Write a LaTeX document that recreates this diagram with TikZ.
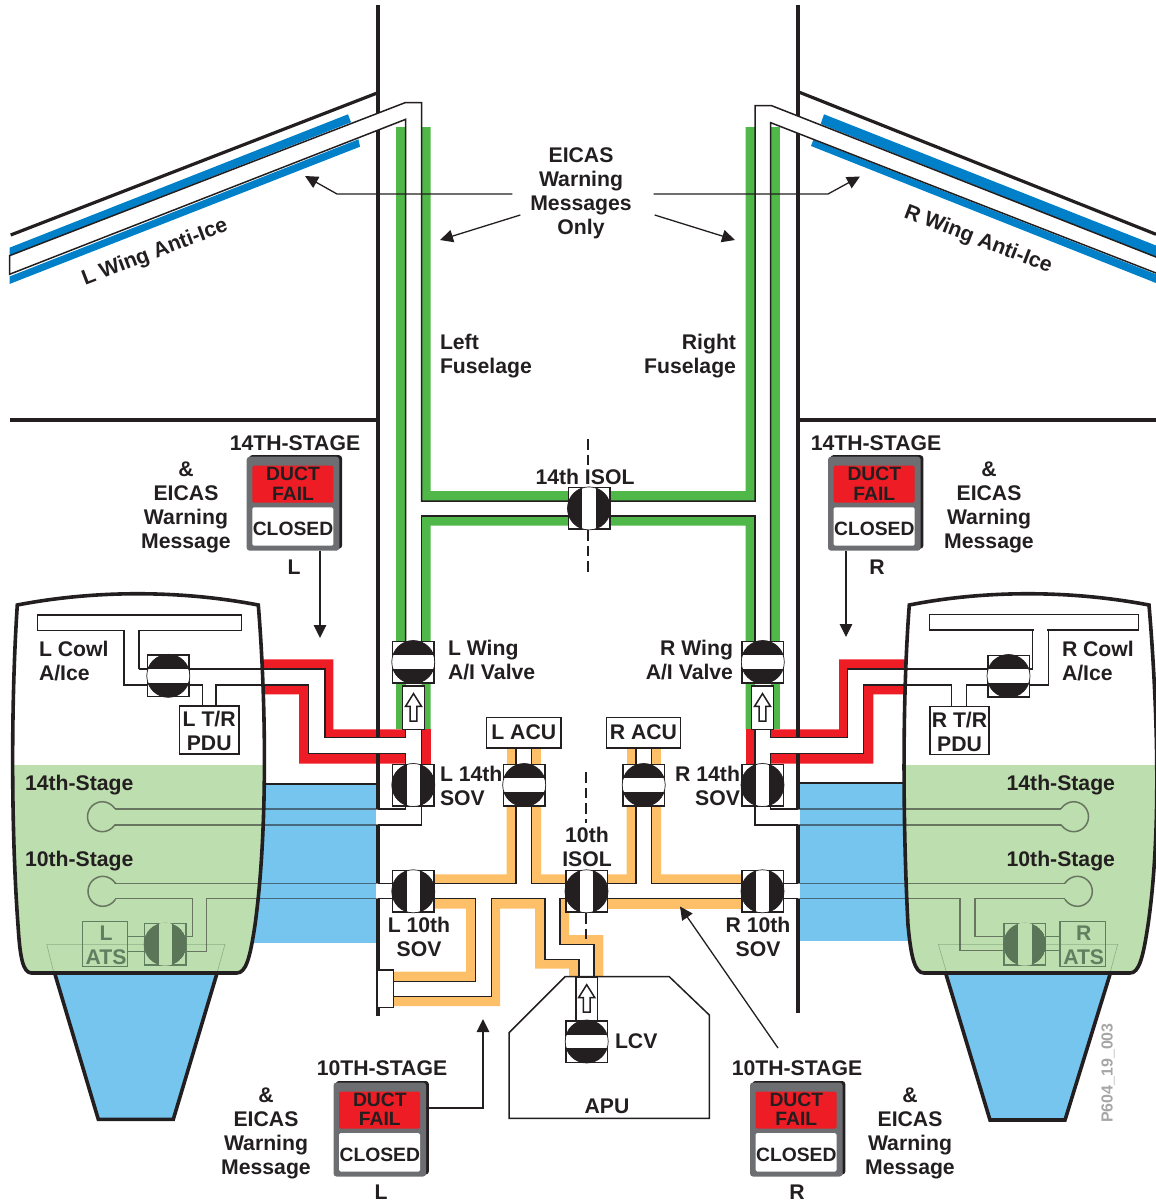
\documentclass[tikz,border=0pt]{standalone}
\usepackage{fontspec}
\setmainfont{Liberation Sans}
\usetikzlibrary{arrows.meta}
\definecolor{ink}{HTML}{231F20}
\definecolor{ductgreen}{HTML}{50B848}
\definecolor{ductred}{HTML}{EE1C25}
\definecolor{ductorange}{HTML}{FDC068}
\definecolor{wingblue}{HTML}{0080C8}
\definecolor{bayblue}{HTML}{75C5EF}
\definecolor{cowlgreen}{HTML}{BDDEAE}
\definecolor{fadeink}{HTML}{5F7F60}
\definecolor{fadedisc}{HTML}{5B7558}
\definecolor{panelgray}{HTML}{6D6E71}
\newcommand{\cowlL}{(17.3,605) .. controls (95,590) and (180,590) .. (258.3,605) .. controls (266,700) and (268,830) .. (255,925) .. controls (250,958) and (246,973) .. (236.7,973) -- (31.7,973) .. controls (23,973) and (20,958) .. (18,925) .. controls (11,830) and (11,700) .. (17.3,605) -- cycle}
\newcommand{\cowlR}{(909.3,605) .. controls (985,590) and (1070,590) .. (1149,605) .. controls (1157,700) and (1162,830) .. (1148,925) .. controls (1143,958) and (1139,973) .. (1130,973) -- (924,973) .. controls (915,973) and (911,958) .. (908,925) .. controls (903,830) and (902,700) .. (909.3,605) -- cycle}
\newcommand{\valveH}[3]{%
\draw (#2,#3) node[valvebox] (#1) {};
\begin{scope}
\clip (#1.center) circle (21.5);
\fill[ink] (#1.center) circle (21.5);
\fill[white] ([shift={(-22,-6.7)}]#1.center) rectangle ([shift={(22,6.7)}]#1.center);
\end{scope}
\draw[line width=.7pt,ink] (#1.center) circle (21.5);}
\newcommand{\valveV}[3]{%
\draw (#2,#3) node[valvebox] (#1) {};
\begin{scope}
\clip (#1.center) circle (21.5);
\fill[ink] (#1.center) circle (21.5);
\fill[white] ([shift={(-6.7,-22)}]#1.center) rectangle ([shift={(6.7,22)}]#1.center);
\end{scope}
\draw[line width=.7pt,ink] (#1.center) circle (21.5);}
\newcommand{\valveF}[3]{%
\draw (#2,#3) node[valvebox,draw=fadeink,fill=cowlgreen] (#1) {};
\begin{scope}
\clip (#1.center) circle (21.5);
\fill[fadedisc] (#1.center) circle (21.5);
\fill[cowlgreen] ([shift={(-6.7,-22)}]#1.center) rectangle ([shift={(6.7,22)}]#1.center);
\end{scope}}
\newcommand{\gate}[3]{%
\draw (#2,#3) node[gatebox] (#1) {};
\draw[duct,shift={(#2,#3)}] (0,-14) -- (8,-1.2) -- (3.3,-1.2) -- (3.3,13.4) -- (-3.3,13.4) -- (-3.3,-1.2) -- (-8,-1.2) -- cycle;}
\newcommand{\bulb}[3]{%
\draw[fadeline,shift={(#1,#2)},xscale=#3] (12.5,-8) .. controls (9.5,-12.5) and (4.5,-15) .. (0,-15) .. controls (-8.3,-15) and (-15,-8.3) .. (-15,0) .. controls (-15,8.3) and (-8.3,15) .. (0,15) .. controls (4.5,15) and (9.5,12.5) .. (12.5,8);}
\newcommand{\ductpanel}[3]{%
\fill[ink,rounded corners=3pt] (#2-44,#3-48.5) rectangle (#2+49,#3+45);
\draw (#2,#3) node[panelbox] (#1) {};
\fill[ductred,rounded corners=1.5pt] (#2-40.7,#3-38) rectangle (#2+40.3,#3-1);
\fill[white,rounded corners=1.5pt] (#2-40.7,#3+3.6) rectangle (#2+40.3,#3+42);
\draw (#2,#3-20) node[paneltxt] (#1fail) {DUCT\\FAIL};
\draw (#2,#3+25) node[paneltxt] (#1shut) {CLOSED};}
\begin{document}
\begin{tikzpicture}[x=1pt,y=-1pt,inner sep=0pt,outer sep=0pt,line join=miter,
duct/.style={draw=ink,line width=1.5pt},
fadeline/.style={draw=ink,draw opacity=.55,line width=1.5pt},
hull/.style={draw=ink,line width=3.2pt},
cowl/.style={draw=ink,line width=3.6pt},
sig/.style={draw=ink,line width=1.3pt,-{Triangle[length=13pt,width=12.5pt]}},
axis/.style={draw=ink,line width=1.5pt,dash pattern=on 10.5pt off 5pt},
lbl/.style={font=\fontsize{21.2}{24}\selectfont\bfseries,text=ink,align=center},
paneltxt/.style={font=\fontsize{19.3}{19.4}\selectfont\bfseries,text=ink,align=center},
valvebox/.style={draw=ink,fill=white,line width=1.5pt,minimum width=41.5pt,minimum height=41.5pt},
gatebox/.style={draw=ink,fill=white,line width=1.5pt,minimum width=21.6pt,minimum height=43.3pt},
namebox/.style={draw=ink,fill=white,line width=1.5pt},
panelbox/.style={fill=panelgray,rounded corners=3pt,minimum width=92.6pt,minimum height=94pt}]
\path[use as bounding box,clip] (0,0) rectangle (1156,1202);
\coordinate (tipa) at (320,638);
\coordinate (tipb) at (846,637);
\coordinate (tipc) at (483,1019);
\coordinate (bendc) at (483,1108);
\coordinate (tipd) at (680,906.5);
\coordinate (taild) at (778,1048);
\coordinate (tipe) at (305,176);
\coordinate (bende) at (337,194);
\coordinate (tipf) at (860,176.5);
\coordinate (bendf) at (828,194);
\coordinate (tipg) at (440,240);
\coordinate (tiph) at (735,240);
\fill[bayblue] (240,784) rectangle (378,943);
\fill[bayblue] (798,783) rectangle (930,941);
\draw[duct] (258,784) -- (378,784);
\draw[duct] (798,783) -- (912,783);
\fill[wingblue] (9.5,247.7) -- (348,114.3) -- (351,122.3) -- (9.5,255.7) -- cycle;
\fill[wingblue] (9.5,276.5) -- (358.5,139.3) -- (360,146.7) -- (9.5,284) -- cycle;
\fill[wingblue] (824,114.3) -- (1156,245.5) -- (1156,257) -- (820.7,124) -- cycle;
\fill[wingblue] (813.3,140) -- (1156,274.3) -- (1156,283) -- (811,146) -- cycle;
\fill[ductgreen] (396,127) rectangle (405.7,729.3);
\fill[ductgreen] (770.7,127) rectangle (780,729.3);
\fill[ductgreen] (421.7,127) -- (430.7,127) -- (430.7,491) -- (745.7,491) -- (745.7,127) -- (755,127) -- (755,501) -- (421.7,501) -- cycle;
\fill[ductgreen] (421.7,516) -- (755,516) -- (755,729.3) -- (745.7,729.3) -- (745.7,525.7) -- (430.7,525.7) -- (430.7,729.3) -- (421.7,729.3) -- cycle;
\fill[ductred] (258,659.3) -- (333.3,659.3) -- (333.3,729.3) -- (405.7,729.3) -- (405.7,737.7) -- (325,737.7) -- (325,669) -- (258,669) -- cycle;
\fill[ductred] (258,685) -- (308.3,685) -- (308.3,753.7) -- (405.7,753.7) -- (405.7,763.7) -- (299,763.7) -- (299,694.3) -- (258,694.3) -- cycle;
\fill[ductred] (421.7,729.3) rectangle (430.7,764.3);
\fill[ductred] (746,729.3) rectangle (755,764.3);
\fill[ductred] (770.7,729.3) -- (839,729.3) -- (839,659.3) -- (912,659.3) -- (912,669) -- (847.7,669) -- (847.7,737.7) -- (770.7,737.7) -- cycle;
\fill[ductred] (770.7,753.7) -- (863.3,753.7) -- (863.3,685) -- (912,685) -- (912,694.3) -- (873.3,694.3) -- (873.3,763.7) -- (770.7,763.7) -- cycle;
\fill[ductorange] (506.7,748) rectangle (516,764.3);
\fill[ductorange] (531.7,748) rectangle (541,764.3);
\fill[ductorange] (626.7,748) rectangle (636,764.3);
\fill[ductorange] (651.7,748) rectangle (661,764.3);
\fill[ductorange] (435,874.3) -- (506.7,874.3) -- (506.7,806) -- (516,806) -- (516,883.3) -- (435,883.3) -- cycle;
\fill[ductorange] (531.7,806) -- (541,806) -- (541,874.3) -- (566,874.3) -- (566,883.3) -- (531.7,883.3) -- cycle;
\fill[ductorange] (607,883.3) -- (607,874.3) -- (626.7,874.3) -- (626.7,806) -- (636,806) -- (636,883.3) -- cycle;
\fill[ductorange] (651.7,806) -- (661,806) -- (661,874.3) -- (742,874.3) -- (742,883.3) -- (651.7,883.3) -- cycle;
\fill[ductorange] (607,898.7) rectangle (742,908.7);
\fill[ductorange] (435,898.7) -- (475.7,898.7) -- (475.7,981.7) -- (393,981.7) -- (393,971.7) -- (466,971.7) -- (466,908.7) -- (435,908.7) -- cycle;
\fill[ductorange] (491.3,898.7) -- (545,898.7) -- (545,959.3) -- (579,959.3) -- (579,976.7) -- (569,976.7) -- (569,968.7) -- (535,968.7) -- (535,908.7) -- (500,908.7) -- (500,1006) -- (393,1006) -- (393,996.7) -- (491.3,996.7) -- cycle;
\fill[ductorange] (560,898.7) -- (569,898.7) -- (569,935) -- (603.3,935) -- (603.3,976.7) -- (594,976.7) -- (594,944.3) -- (560,944.3) -- cycle;
\draw[hull] (378,5) -- (378,1016);
\draw[hull] (798,5) -- (798,1012.7);
\draw[hull] (10,420) -- (378,420);
\draw[hull] (798,420) -- (1156,420);
\draw[hull] (378,92.7) -- (10.7,235);
\draw[hull] (798,91.7) -- (1156,234.3);
\fill[white] (376,737.7) rectangle (405.7,753.7);
\fill[white] (770.7,737.7) rectangle (800,753.7);
\fill[white] (376,809) rectangle (421.7,825);
\fill[white] (755,809) rectangle (800,825);
\fill[white] (376,883.3) rectangle (393,898.7);
\fill[white] (784,883.3) rectangle (800,898.7);
\fill[white] (405.7,641.7) -- (405.7,119.3) -- (9.5,274.3) -- (9.5,255.7) -- (405,102.7) -- (421.7,102.7) -- (421.7,641.7) -- cycle;
\fill[white] (770.7,641.7) -- (770.7,122.7) -- (1160,274.6) -- (1160,258.6) -- (771.7,105.7) -- (755,105.7) -- (755,641.7) -- cycle;
\draw[duct] (405.7,641.7) -- (405.7,119.3) -- (9.5,274.3) -- (9.5,255.7) -- (405,102.7) -- (421.7,102.7) -- (421.7,501) -- (568,501);
\draw[duct] (568,516) -- (421.7,516) -- (421.7,641.7);
\draw[duct] (770.7,641.7) -- (770.7,122.7) -- (1160,274.6);
\draw[duct] (1160,258.6) -- (771.7,105.7) -- (755,105.7) -- (755,501) -- (610,501);
\draw[duct] (610,516) -- (755,516) -- (755,641.7);
\draw[duct] (516,748) -- (516,764.3);
\draw[duct] (531.7,748) -- (531.7,764.3);
\draw[duct] (636,748) -- (636,764.3);
\draw[duct] (651.7,748) -- (651.7,764.3);
\draw[duct] (516,806) -- (516,883.3) -- (435,883.3);
\draw[duct] (531.7,806) -- (531.7,883.3) -- (566,883.3);
\draw[duct] (636,806) -- (636,883.3) -- (607,883.3);
\draw[duct] (651.7,806) -- (651.7,883.3) -- (742,883.3);
\draw[duct] (607,898.7) -- (742,898.7);
\draw[duct] (435,898.7) -- (475.7,898.7) -- (475.7,981.7) -- (393,981.7);
\draw[duct] (393,996.7) -- (491.3,996.7) -- (491.3,898.7) -- (545,898.7) -- (545,959.3) -- (579,959.3) -- (579,976.7);
\draw[duct] (566,898.7) -- (560,898.7) -- (560,944.3) -- (594,944.3) -- (594,976.7);
\draw[duct,fill=white] (377.3,970) rectangle (393.3,1007.7);
\draw[duct] (509,1118.3) -- (509,1032.7) -- (565,976.7) -- (669.3,976.7) -- (709.3,1015) -- (709.3,1118.3) -- cycle;
\draw[cowl,fill=bayblue] (55,974.3) -- (98.3,1119.3) -- (173.3,1119.3) -- (216.7,974.3);
\draw[cowl,fill=bayblue] (946,974.3) -- (990,1120) -- (1065,1120) -- (1110,974.3);
\fill[white] \cowlL;
\fill[white] \cowlR;
\begin{scope}
\clip \cowlL;
\fill[cowlgreen] (0,765) rectangle (300,980);
\end{scope}
\begin{scope}
\clip \cowlR;
\fill[cowlgreen] (880,765) rectangle (1160,980);
\end{scope}
\draw[line width=.6pt,draw=fadeink!50!cowlgreen] (54,973) -- (46.7,944.3) -- (225,944.3) -- (217,973);
\draw[line width=.6pt,draw=fadeink!50!cowlgreen] (946.7,973) -- (938.3,944.3) -- (1117.7,944.3) -- (1110,973);
\draw[duct] (258,669) -- (325,669) -- (325,737.7) -- (405.7,737.7) -- (405.7,729.3);
\draw[duct] (258,685) -- (308.3,685) -- (308.3,753.7) -- (405.7,753.7) -- (405.7,764.3);
\draw[duct] (421.7,729.3) -- (421.7,764.3);
\draw[duct] (139,669) -- (258,669);
\draw[duct] (37.7,615) rectangle (241.7,630.7);
\fill[white] (125,628) rectangle (138,633);
\draw[duct] (124,630.7) -- (124,685) -- (148,685);
\draw[duct] (139,630.7) -- (139,669);
\draw[duct] (189,685) -- (202.7,685) -- (202.7,706);
\draw[duct] (216,706) -- (216,685) -- (258,685);
\draw (209.2,730) node[namebox,minimum width=59.7pt,minimum height=47.7pt] (lpdu) {};
\draw[duct] (912,669) -- (847.7,669) -- (847.7,737.7) -- (770.7,737.7) -- (770.7,729.3);
\draw[duct] (912,685) -- (863.3,685) -- (863.3,753.7) -- (770.7,753.7) -- (770.7,764.3);
\draw[duct] (755,729.3) -- (755,764.3);
\draw[duct] (912,669) -- (1032.3,669) -- (1032.3,630);
\draw[duct] (929.3,614.3) rectangle (1138.3,630);
\fill[white] (1033.5,628) rectangle (1047,633);
\draw[duct] (1048.3,630) -- (1048.3,685) -- (1029,685);
\draw[duct] (912,685) -- (951.7,685) -- (951.7,706.7);
\draw[duct] (966.7,706.7) -- (966.7,685) -- (988,685);
\draw (959.5,730.5) node[namebox,minimum width=59pt,minimum height=47.6pt] (rpdu) {};
\draw[duct] (405.7,806) -- (405.7,809) -- (378,809);
\draw[duct] (421.7,806) -- (421.7,825) -- (378,825);
\draw[duct] (770.7,806) -- (770.7,809) -- (798,809);
\draw[duct] (755,806) -- (755,825) -- (798,825);
\draw[duct] (378,883.3) -- (393,883.3);
\draw[duct] (378,898.7) -- (393,898.7);
\draw[duct] (784,883.3) -- (798,883.3);
\draw[duct] (784,898.7) -- (798,898.7);
\draw[fadeline] (115,809) -- (378,809);
\draw[fadeline] (115,825) -- (378,825);
\draw[fadeline] (115,883.3) -- (378,883.3);
\draw[fadeline] (115,898.3) -- (192.3,898.3) -- (192.3,936.7) -- (170,936.7);
\draw[fadeline] (378,898.3) -- (206.7,898.3) -- (206.7,951.7) -- (170,951.7);
\draw[fadeline] (1061,809) -- (798,809);
\draw[fadeline] (1061,825) -- (798,825);
\draw[fadeline] (1065,883.3) -- (798,883.3);
\draw[fadeline] (1065,898.3) -- (975,898.3) -- (975,936.7) -- (1020,936.7);
\draw[fadeline] (798,898.3) -- (960,898.3) -- (960,950.7) -- (1020,950.7);
\bulb{102.5}{816.7}{1}
\bulb{103}{891.3}{1}
\bulb{1073.5}{816.7}{-1}
\bulb{1077.3}{891.3}{-1}
\draw[line width=1.5pt,draw=fadeink] (127.7,936.7) -- (144.3,936.7);
\draw[line width=1.5pt,draw=fadeink] (127.7,951.7) -- (144.3,951.7);
\draw[line width=1.5pt,draw=fadeink] (1045.7,936.7) -- (1060,936.7);
\draw[line width=1.5pt,draw=fadeink] (1045.7,950.7) -- (1060,950.7);
\draw (105,944.2) node[draw=fadeink,line width=1.5pt,minimum width=45.4pt,minimum height=45pt] (lats) {};
\draw (1082.7,944.2) node[draw=fadeink,line width=1.5pt,minimum width=45.4pt,minimum height=45pt] (rats) {};
\valveF{lvatsv}{165.2}{944.2}
\valveF{rvatsv}{1024.8}{944.2}
\draw[cowl] \cowlL;
\draw[cowl] \cowlR;
\valveH{lcowlv}{168.3}{675.8}
\valveH{rcowlv}{1008.5}{676}
\valveH{lwingv}{413.3}{662}
\valveH{rwingv}{762.8}{662}
\gate{lwingg}{413.5}{707.6}
\gate{rwingg}{762.5}{707.6}
\valveV{lforteen}{413.3}{785}
\valveV{rforteen}{762.5}{785}
\valveV{lten}{413.3}{891.3}
\valveV{rten}{762.5}{891.3}
\valveH{lpack}{524.2}{785}
\valveH{rpack}{643.7}{785}
\valveV{isolten}{586.5}{891.3}
\valveV{isolfor}{589}{508.4}
\gate{lcvg}{586.7}{998.7}
\valveH{lcv}{586.7}{1041.5}
\draw (523.8,732.6) node[namebox,lbl,minimum width=74.3pt,minimum height=30.7pt] (lacu) {L ACU};
\draw (643.5,732.6) node[namebox,lbl,minimum width=74.3pt,minimum height=30.7pt] (racu) {R ACU};
\draw[axis] (588,439) -- (588,465);
\draw[axis] (588,530) -- (588,572);
\draw[axis] (586,772) -- (586,823);
\draw[axis] (586,913) -- (586,945);
\ductpanel{plfor}{293}{503.7}
\ductpanel{prfor}{874.3}{503.7}
\ductpanel{plten}{379.8}{1129.5}
\ductpanel{prten}{796.3}{1129.5}
\draw (295,443) node[lbl] (stagea) {14TH-STAGE};
\draw (876,443) node[lbl] (stageb) {14TH-STAGE};
\draw (382,1068) node[lbl] (stagec) {10TH-STAGE};
\draw (797,1068) node[lbl] (staged) {10TH-STAGE};
\draw (294,567) node[lbl] (sidea) {L};
\draw (877,567) node[lbl] (sideb) {R};
\draw (381,1192) node[lbl] (sidec) {L};
\draw (797,1192) node[lbl] (sided) {R};
\draw (186,507) node[lbl] (msga) {\&\\EICAS\\Warning\\Message};
\draw (989,507) node[lbl] (msgb) {\&\\EICAS\\Warning\\Message};
\draw (266,1133) node[lbl] (msgc) {\&\\EICAS\\Warning\\Message};
\draw (910,1133) node[lbl] (msgd) {\&\\EICAS\\Warning\\Message};
\draw (581,193) node[lbl] (eicas) {EICAS\\Warning\\Messages\\Only};
\draw (155,253) node[lbl,rotate=21] (lwai) {L Wing Anti-Ice};
\draw (978,240) node[lbl,rotate=-21] (rwai) {R Wing Anti-Ice};
\draw (440,356) node[lbl,anchor=west,align=left] (lfus) {Left\\Fuselage};
\draw (736,356) node[lbl,anchor=east,align=right] (rfus) {Right\\Fuselage};
\draw (585,477) node[lbl] (isolfortxt) {14th ISOL};
\draw (587,847) node[lbl] (isoltentxt) {10th\\ISOL};
\draw (448,660) node[lbl,anchor=west,align=left] (lwingtxt) {L Wing\\A/I Valve};
\draw (733,660) node[lbl,anchor=east,align=right] (rwingtxt) {R Wing\\A/I Valve};
\draw (440,786) node[lbl,anchor=west,align=left] (lfortxt) {L 14th\\SOV};
\draw (740,786) node[lbl,anchor=east,align=right] (rfortxt) {R 14th\\SOV};
\draw (419,937) node[lbl] (ltentxt) {L 10th\\SOV};
\draw (758,937) node[lbl] (rtentxt) {R 10th\\SOV};
\draw (615,1041) node[lbl,anchor=west] (lcvtxt) {LCV};
\draw (607,1106) node[lbl] (aputxt) {APU};
\draw (39,661) node[lbl,anchor=west,align=left] (lcowltxt) {L Cowl\\A/Ice};
\draw (1062,661) node[lbl,anchor=west,align=left] (rcowltxt) {R Cowl\\A/Ice};
\draw ([shift={(0,1)}]lpdu.center) node[lbl] (lpdutxt) {L T/R\\PDU};
\draw ([shift={(0,1)}]rpdu.center) node[lbl] (rpdutxt) {R T/R\\PDU};
\draw (25,785) node[lbl,anchor=west] (lsta) {14th-Stage};
\draw (25,861) node[lbl,anchor=west] (lstb) {10th-Stage};
\draw (1115,785) node[lbl,anchor=east] (rsta) {14th-Stage};
\draw (1115,861) node[lbl,anchor=east] (rstb) {10th-Stage};
\draw ([shift={(1,1)}]lats.center) node[lbl,text=fadeink] (latstxt) {L\\ATS};
\draw ([shift={(1,1)}]rats.center) node[lbl,text=fadeink] (ratstxt) {R\\ATS};
\draw (1108,1073) node[rotate=90,font=\fontsize{16}{16}\selectfont\bfseries,text=black!35] (figid) {P604\_19\_003};
\draw[sig] (plfor.south -| tipa) -- (tipa);
\draw[sig] (prfor.south -| tipb) -- (tipb);
\draw[sig] (plten.east |- bendc) -- (bendc) -- (tipc);
\draw[sig] (taild) -- (tipd);
\draw[sig] ([shift={(-18,1)}]eicas.west) -- (bende) -- (tipe);
\draw[sig] ([shift={(22,1)}]eicas.east) -- (bendf) -- (tipf);
\draw[sig] ([shift={(-10,22)}]eicas.west) -- (tipg);
\draw[sig] ([shift={(23,22)}]eicas.east) -- (tiph);
\end{tikzpicture}
\end{document}
